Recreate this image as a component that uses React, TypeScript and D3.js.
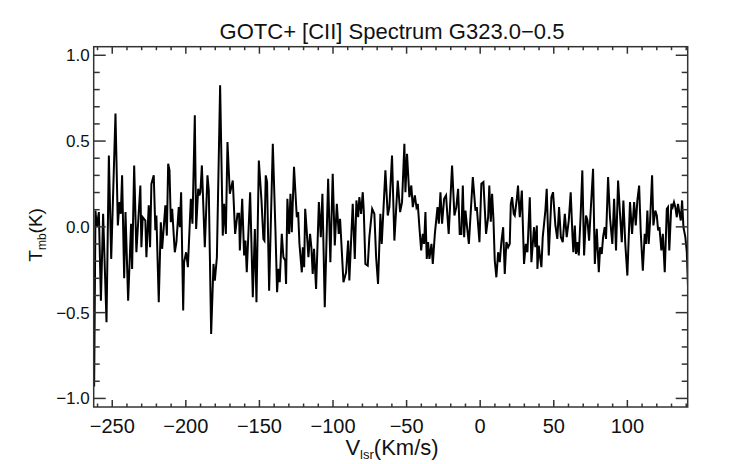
import React from "react";
import * as d3 from "d3";

const titleText = "GOTC+ [CII] Spectrum G323.0\u22120.5";
const xTicks = [-250, -200, -150, -100, -50, 0, 50, 100];
const yTicks = [-1.0, -0.5, 0.0, 0.5, 1.0];

const velocity = [
  -262.3, -261.4, -260.5, -259.1, -257.7, -256.2, -253.9, -252.3, -250.7, -247.8,
  -246.2, -245.1, -244.2, -243.3, -241.9, -241.0, -239.2, -237.2, -236.5, -235.1,
  -233.6, -230.9, -230.2, -229.3, -227.5, -226.8, -225.2, -224.3, -223.4, -221.8,
  -220.7, -220.0, -218.4, -217.0, -216.1, -213.9, -212.9, -212.0, -211.1, -210.2,
  -209.3, -207.5, -206.4, -204.8, -204.1, -203.2, -201.8, -201.2, -199.8, -198.6,
  -196.6, -195.5, -193.9, -193.0, -191.6, -190.8, -190.1, -189.1, -187.1, -185.3,
  -184.4, -182.8, -181.2, -180.3, -178.9, -176.7, -174.9, -174.0, -172.8, -171.7,
  -170.1, -168.1, -166.5, -164.9, -163.8, -163.3, -161.7, -160.4, -159.5, -158.6,
  -156.3, -154.5, -153.1, -152.0, -150.4, -148.6, -147.3, -146.6, -145.7, -144.8,
  -143.4, -140.9, -139.1, -138.0, -137.1, -136.2, -134.8, -133.7, -132.5, -131.9,
  -131.0, -129.8, -128.9, -128.0, -126.5, -124.6, -123.7, -122.8, -121.2, -120.5,
  -119.6, -118.9, -117.8, -116.7, -115.6, -114.7, -113.8, -112.9, -111.5, -109.6,
  -108.3, -107.2, -105.6, -103.3, -101.8, -100.2, -98.8, -97.4, -96.1, -95.2,
  -92.9, -91.1, -89.7, -88.9, -86.6, -85.2, -84.1, -82.9, -82.1, -80.9,
  -79.8, -79.1, -78.0, -76.4, -75.3, -73.4, -71.9, -70.7, -69.4, -67.8,
  -66.9, -64.4, -62.8, -61.7, -59.9, -58.3, -56.0, -54.4, -53.1, -51.5,
  -50.8, -49.7, -48.1, -46.8, -45.8, -44.4, -43.3, -42.4, -41.3, -40.1,
  -39.0, -38.1, -37.2, -36.3, -35.4, -34.5, -33.1, -32.2, -30.8, -29.0,
  -28.1, -27.0, -25.9, -24.5, -23.2, -21.4, -19.1, -17.5, -16.2, -15.0,
  -13.9, -12.8, -11.8, -10.9, -10.0, -8.9, -7.7, -5.0, -3.2, -2.3,
  -0.5, 0.8, 2.2, 4.0, 5.4, 6.2, 7.2, 8.1, 9.0, 9.9,
  11.0, 12.2, 13.3, 14.4, 15.6, 16.7, 17.8, 19.0, 20.1, 20.8,
  21.7, 22.8, 23.5, 24.9, 25.7, 26.9, 28.3, 29.8, 31.0, 32.1,
  33.7, 34.8, 36.6, 37.5, 38.5, 38.9, 39.8, 40.7, 41.6, 42.5,
  44.3, 45.2, 46.6, 48.4, 49.5, 51.1, 52.4, 53.6, 54.8, 56.1,
  57.5, 58.8, 60.2, 61.5, 62.7, 63.3, 64.3, 65.1, 66.0, 67.0,
  68.3, 69.4, 70.6, 71.9, 72.9, 74.0, 75.1, 76.7, 77.9, 79.2,
  80.6, 81.5, 82.6, 83.5, 84.6, 85.5, 86.9, 88.2, 89.8, 91.0,
  92.3, 93.7, 95.0, 96.2, 97.3, 98.6, 100.0, 101.8, 103.2, 104.6,
  105.7, 106.8, 108.0, 109.1, 110.5, 111.8, 112.7, 113.6, 114.5, 115.4,
  116.8, 117.7, 119.0, 120.0, 120.9, 121.8, 123.1, 124.1, 125.4, 126.8,
  127.6, 128.5, 129.9, 130.8, 131.7, 132.6, 133.6, 134.4, 135.3, 136.3,
  137.2, 138.1, 139.4, 140.4, 141.3,
];

const tmb = [
  -0.93, 0.095, 0.0, 0.086, -0.43, 0.076, -0.556, 0.416, -0.187, 0.66,
  0.008, 0.144, 0.076, 0.3, -0.3, 0.086, -0.43, 0.018, -0.245, 0.358,
  -0.148, 0.241, -0.119, 0.056, 0.037, -0.177, 0.125, -0.119, 0.25, 0.3,
  -0.02, 0.066, -0.44, 0.027, -0.128, 0.125, -0.051, 0.368, 0.329, 0.027,
  0.105, -0.148, -0.089, 0.115, -0.002, 0.202, -0.488, -0.206, -0.148, -0.235,
  0.163, 0.018, 0.65, -0.012, 0.222, 0.183, 0.202, 0.358, -0.119, 0.3,
  0.212, -0.625, -0.216, -0.313, -0.177, 0.825, -0.051, 0.134, -0.041, 0.494,
  0.193, 0.27, -0.041, 0.076, 0.076, -0.138, 0.163, -0.167, -0.08, -0.265,
  0.202, -0.41, -0.012, -0.44, 0.387, 0.154, -0.07, -0.08, 0.3, 0.261,
  -0.372, 0.484, -0.021, -0.381, -0.245, -0.323, -0.041, -0.177, -0.196, -0.333,
  0.163, -0.041, 0.193, -0.031, 0.35, 0.056, 0.086, -0.099, -0.265, -0.119,
  -0.235, 0.105, -0.031, -0.177, -0.041, -0.119, -0.274, -0.128, -0.362, 0.144,
  -0.06, 0.193, -0.469, 0.28, -0.206, 0.309, -0.109, 0.134, -0.041, 0.047,
  -0.323, -0.265, -0.08, -0.313, 0.134, -0.187, 0.154, 0.056, 0.173, 0.076,
  0.202, 0.095, -0.216, -0.226, -0.06, 0.105, 0.076, -0.177, -0.333, 0.076,
  -0.099, 0.329, 0.066, 0.115, 0.416, -0.08, 0.27, 0.086, 0.144, 0.484,
  0.202, 0.426, 0.173, 0.241, 0.115, 0.183, 0.115, 0.134, -0.002, -0.138,
  -0.041, -0.099, 0.086, -0.187, -0.089, -0.187, -0.099, -0.216, -0.041, 0.115,
  0.018, 0.202, 0.018, 0.163, 0.183, -0.041, 0.358, 0.066, 0.115, 0.222,
  -0.041, -0.041, 0.241, -0.06, 0.095, -0.002, -0.099, 0.29, 0.095, 0.115,
  -0.089, 0.251, 0.261, -0.041, 0.056, 0.241, 0.03, 0.193, 0.047, -0.196,
  -0.294, -0.148, -0.206, -0.089, -0.002, -0.274, -0.089, -0.119, -0.099, 0.134,
  0.173, 0.076, 0.066, 0.163, 0.241, 0.056, 0.212, -0.216, -0.099, -0.148,
  0.173, -0.206, -0.002, -0.119, 0.008, -0.245, -0.109, -0.177, -0.235, -0.06,
  0.095, 0.222, -0.167, 0.173, 0.202, 0.008, -0.07, 0.115, -0.06, -0.089,
  0.076, -0.06, 0.037, 0.202, -0.051, -0.148, 0.008, -0.158, -0.089, -0.167,
  0.076, 0.329, -0.167, 0.066, 0.037, -0.08, 0.095, 0.339, -0.216, -0.012,
  -0.265, -0.119, -0.158, -0.06, -0.002, -0.07, 0.29, 0.056, -0.099, 0.163,
  -0.138, 0.27, 0.076, -0.089, 0.154, -0.099, -0.284, 0.144, -0.041, 0.144,
  0.008, 0.154, 0.241, -0.031, -0.255, -0.041, -0.099, 0.095, -0.099, 0.027,
  0.3, 0.008, 0.095, 0.066, -0.021, -0.002, -0.138, -0.041, -0.265, 0.105,
  0.115, -0.138, 0.134, 0.115, 0.144, 0.115, 0.056, 0.134, 0.086, 0.037,
  0.154, -0.002, -0.06, -0.148, -0.372,
];

const W = 742;
const H = 464;
const left = 93.7;
const right = 687.7;
const top = 46.7;
const bottom = 407;
const font = "'Liberation Sans', Arial, Helvetica, sans-serif";
const axisColor = "#333";

export default function App() {
  const x = d3.scaleLinear().domain([-262.6, 141.0]).range([left, right]);
  const y = d3.scaleLinear().domain([-1.05, 1.05]).range([bottom, top]);
  const pts: [number, number][] = velocity.map((v, i) => [v, tmb[i]]);
  const line = d3
    .line<[number, number]>()
    .x((d) => x(d[0]))
    .y((d) => y(d[1]));

  const xMinor = d3.range(-260, 141, 10).filter((v) => v % 50 !== 0);
  const yMinor = d3.range(-10, 11, 1).map((v) => v / 10).filter((v) => Math.round(v * 10) % 5 !== 0);
  const fmtY = (v: number) => (v < 0 ? "\u2212" : "") + Math.abs(v).toFixed(1);
  const fmtX = (v: number) => (v < 0 ? "\u2212" : "") + Math.abs(v).toString();

  return (
    <svg
      width={W}
      height={H}
      viewBox={`0 0 ${W} ${H}`}
      style={{ position: "absolute", left: 0, top: 0, background: "#fff" }}
      fontFamily={font}
    >
      <rect x={0} y={0} width={W} height={H} fill="#fff" />
      <defs>
        <clipPath id="plotClip">
          <rect x={left - 1} y={top} width={right - left + 1} height={bottom - top} />
        </clipPath>
      </defs>
      <text x={392} y={39} textAnchor="middle" fontSize={22} fill="#111">
        {titleText}
      </text>

      <path
        d={line(pts) || ""}
        fill="none"
        stroke="#000"
        strokeWidth={2}
        strokeLinejoin="miter"
        clipPath="url(#plotClip)"
      />

      <g stroke={axisColor} strokeWidth={1.5}>
        <rect x={left} y={top} width={right - left} height={bottom - top} fill="none" />
        {xTicks.map((t) => (
          <g key={"xt" + t}>
            <line x1={x(t)} x2={x(t)} y1={bottom} y2={bottom - 7} />
            <line x1={x(t)} x2={x(t)} y1={top} y2={top + 7} />
          </g>
        ))}
        {xMinor.map((t) => (
          <g key={"xm" + t}>
            <line x1={x(t)} x2={x(t)} y1={bottom} y2={bottom - 3.5} />
            <line x1={x(t)} x2={x(t)} y1={top} y2={top + 3.5} />
          </g>
        ))}
        {yTicks.map((t) => (
          <g key={"yt" + t}>
            <line x1={left} x2={left + 12} y1={y(t)} y2={y(t)} />
            <line x1={right} x2={right - 12} y1={y(t)} y2={y(t)} />
          </g>
        ))}
        {yMinor.map((t) => (
          <g key={"ym" + t}>
            <line x1={left} x2={left + 6} y1={y(t)} y2={y(t)} />
            <line x1={right} x2={right - 6} y1={y(t)} y2={y(t)} />
          </g>
        ))}
      </g>

      {xTicks.map((t) => (
        <text key={"xl" + t} x={x(t)} y={433} textAnchor="middle" fontSize={20} fill="#111">
          {fmtX(t)}
        </text>
      ))}
      {yTicks.map((t) => (
        <text
          key={"yl" + t}
          x={left - 4}
          y={y(t) + 6}
          textAnchor="end"
          fontSize={17}
          fill="#111"
        >
          {fmtY(t)}
        </text>
      ))}

      <text x={392} y={455} textAnchor="middle" fontSize={22} fill="#111">
        <tspan>V</tspan>
        <tspan fontSize={13} dy={4}>lsr</tspan>
        <tspan dy={-4}>(Km/s)</tspan>
      </text>
      <text
        transform={`translate(42, ${y(0) + 8}) rotate(-90)`}
        textAnchor="middle"
        fontSize={19}
        fill="#111"
      >
        <tspan>T</tspan>
        <tspan fontSize={12} dy={4}>mb</tspan>
        <tspan dy={-4}>(K)</tspan>
      </text>
    </svg>
  );
}
